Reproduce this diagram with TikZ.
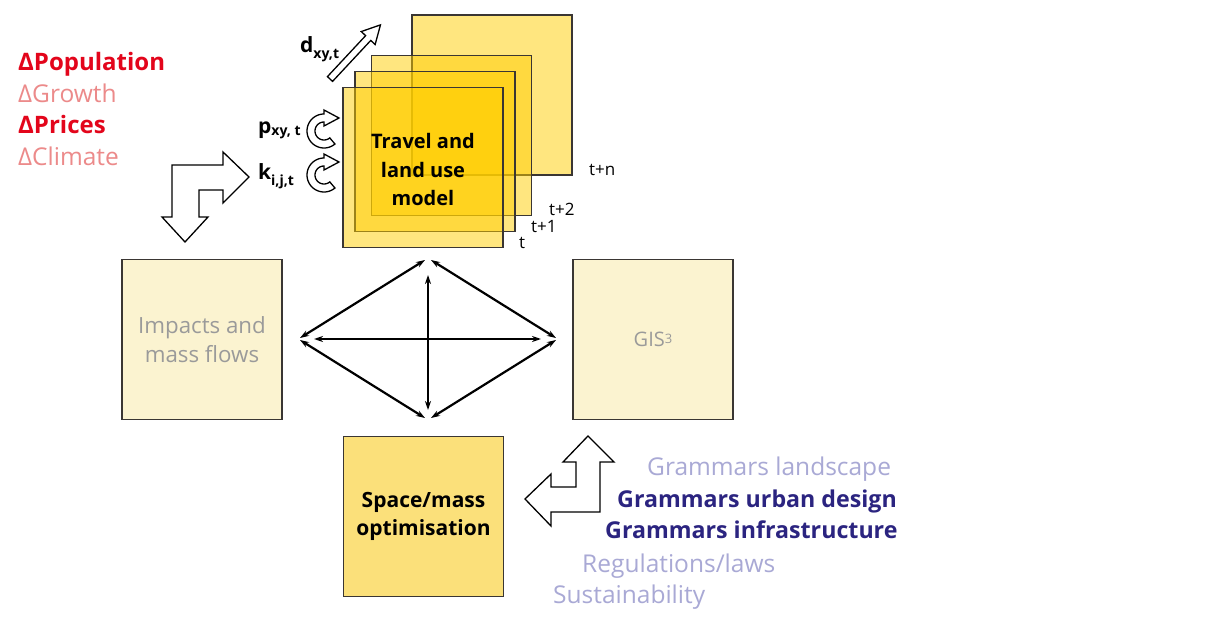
\documentclass[tikz,border=0pt]{standalone}
\usepackage{fontspec}
\setmainfont{Open Sans}
\usetikzlibrary{arrows.meta}
\definecolor{boxline}{HTML}{3A3633}
\definecolor{layer}{HTML}{FFCE00}
\definecolor{cream}{HTML}{FBF3D0}
\definecolor{sand}{HTML}{FBE07A}
\definecolor{greytxt}{HTML}{9A9A9A}
\definecolor{redstrong}{HTML}{E3051B}
\definecolor{redsoft}{HTML}{EC8A8A}
\definecolor{purpdark}{HTML}{2B2480}
\definecolor{purpsoft}{HTML}{A9A9D5}
\tikzset{
  sq/.style={draw=boxline, line width=1.6pt, minimum width=160pt, minimum height=160pt, inner sep=0pt, align=center},
  layerbox/.style={sq, fill=layer, fill opacity=0.5},
  lbl/.style={inner sep=0pt, anchor=base west},
  softlist/.style={lbl, font=\fontsize{24.5}{28}\selectfont},
  strongred/.style={lbl, font=\fontsize{24}{28}\selectfont\bfseries},
  strongpurp/.style={lbl, font=\fontsize{23.2}{28}\selectfont\bfseries},
  tsmall/.style={lbl, font=\fontsize{17}{19}\selectfont},
  hollow/.style={draw=black, line width=1.3pt, fill=white, line join=miter},
  link/.style={line width=2.2pt, {Stealth[length=9pt,width=6pt]}-{Stealth[length=9pt,width=6pt]}},
}
\begin{document}
\begin{tikzpicture}[x=1pt,y=-1pt]
\useasboundingbox (0,0) rectangle (1216,628);
\fill[white] (0,0) rectangle (1216,628);

% stacked time layers of the travel and land use model
\node[layerbox] (tn) at (492,95) {};
\node[layerbox] (t2) at (451.5,135.5) {};
\node[layerbox] (t1) at (435,151.5) {};
\node[layerbox] (t0) at (423,167.5) {};
\node[font=\fontsize{20}{28.5}\selectfont\bfseries, align=center] (travel) at (423,170) {Travel and\\land use\\model};
\node[tsmall] (ltn) at (589,176) {t+n};
\node[tsmall] (lt2) at (549,216) {t+2};
\node[tsmall] (lt1) at (531,233) {t+1};
\node[tsmall] (lt0) at (519,249) {t};

% outer boxes
\node[sq, fill=cream, text=greytxt, font=\fontsize{22.3}{28.5}\selectfont] (impact) at (202,339.5) {Impacts and\\mass flows};
\node[sq, fill=cream, text=greytxt, font=\fontsize{20}{28}\selectfont] (gis) at (653,339.5) {GIS\raisebox{0.3ex}{\fontsize{13}{14}\selectfont 3}};
\node[sq, fill=sand, font=\fontsize{21}{28.5}\selectfont\bfseries] (space) at (423.5,516.5) {Space/mass\\optimisation};

% diamond of exchanges between the four components
\coordinate (dtl) at (425,260);
\coordinate (dtr) at (431,260);
\coordinate (dlu) at (300,338);
\coordinate (dll) at (300,340);
\coordinate (dru) at (556,338);
\coordinate (drl) at (556,340);
\coordinate (dbl) at (425,418);
\coordinate (dbr) at (431,418);
\coordinate (ch1) at (314,339);
\coordinate (ch2) at (541,339);
\coordinate (cv1) at (428,275);
\coordinate (cv2) at (428,410);
\draw[link] (dtl) -- (dlu);
\draw[link] (dtr) -- (dru);
\draw[link] (dll) -- (dbl);
\draw[link] (drl) -- (dbr);
\draw[link] (ch1) -- (ch2);
\draw[link] (cv1) -- (cv2);

% driver list
\node[strongred, text=redstrong] (pop) at (18,71) {ΔPopulation};
\node[softlist, text=redsoft] (gro) at (18,103) {ΔGrowth};
\node[strongred, text=redstrong] (pri) at (18,134) {ΔPrices};
\node[softlist, text=redsoft] (cli) at (18,166) {ΔClimate};

% bent block arrow: drivers into the model, results down to impacts
\draw[hollow] (172,165) -- (223,165) -- (223,152) -- (249,177) -- (223,203) -- (223,190)
  -- (199,190) -- (199,217) -- (208,217) -- (185,242) -- (162,217) -- (172,217) -- cycle;

% bent block arrow: grammars into optimisation and GIS
\draw[hollow] (588,436) -- (614,462) -- (600,462) -- (600,512) -- (551,512) -- (551,526)
  -- (525,499) -- (551,474) -- (551,487) -- (576,487) -- (576,462) -- (563,462) -- cycle;

\node[softlist, text=purpsoft] (g1) at (647,475) {Grammars landscape};
\node[strongpurp, text=purpdark] (g2) at (617,507) {Grammars urban design};
\node[strongpurp, text=purpdark] (g3) at (605,538) {Grammars infrastructure};
\node[softlist, text=purpsoft] (g4) at (582,572) {Regulations/laws};
\node[softlist, text=purpsoft] (g5) at (553,603) {Sustainability};

% feedback variables
\draw[hollow, shift={(330,79)}, rotate=47]
  (0,-3.5) -- (56,-3.5) -- (56,-9.5) -- (74,0) -- (56,9.5) -- (56,3.5) -- (0,3.5) -- cycle;
\node[lbl, font=\fontsize{21}{24}\selectfont\bfseries] (dlab) at (300,53)
  {d\raisebox{-0.45ex}{\fontsize{14}{16}\selectfont xy,t}};
\node[lbl, font=\fontsize{21}{24}\selectfont\bfseries] (plab) at (258,134)
  {p\raisebox{-0.1ex}{\fontsize{14}{16}\selectfont xy, t}};
\node[lbl, font=\fontsize{21}{24}\selectfont\bfseries] (klab) at (258,180)
  {k\raisebox{-0.45ex}{\fontsize{14}{16}\selectfont i,j,t}};

\foreach \cy in {131,175}{
  \draw[hollow]
    plot[domain=50:270, samples=40] ({324+17*cos(\x)}, {\cy+17*sin(\x)})
    -- (324,\cy-21) -- (339,\cy-13) -- (324,\cy-5)
    -- plot[domain=270:50, samples=40] ({324+9*cos(\x)}, {\cy+9*sin(\x)}) -- cycle;
}
\end{tikzpicture}
\end{document}
